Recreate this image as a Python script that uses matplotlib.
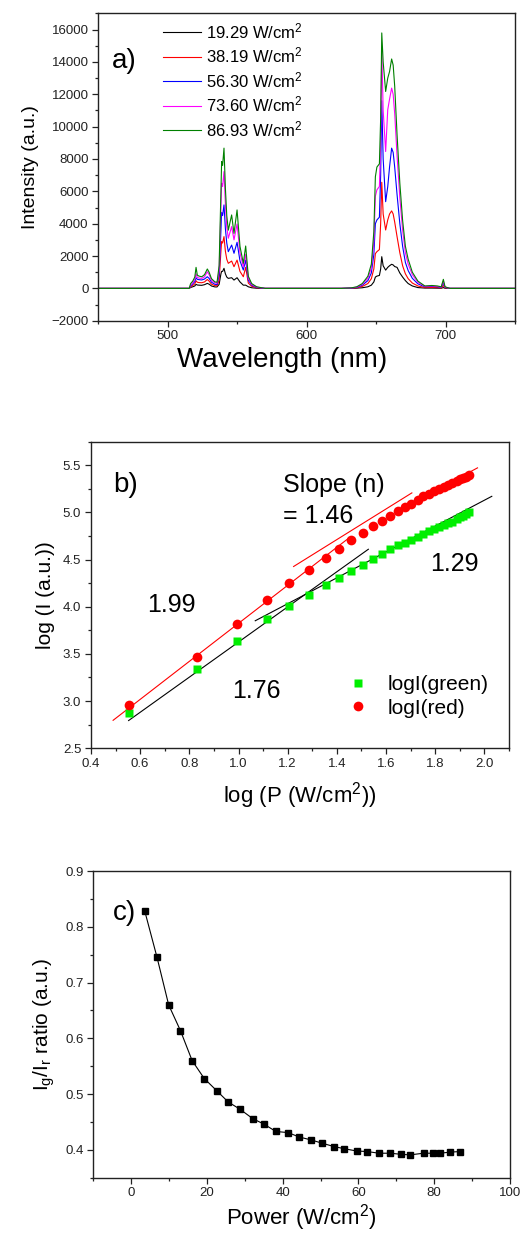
import numpy as np
import matplotlib
matplotlib.use('Agg')
import matplotlib.pyplot as plt
from matplotlib.ticker import MultipleLocator

plt.rcParams['font.family'] = ['Liberation Sans', 'DejaVu Sans']
plt.rcParams['mathtext.fontset'] = 'custom'
plt.rcParams['mathtext.rm'] = 'Liberation Sans'
plt.rcParams['mathtext.it'] = 'Liberation Sans'
plt.rcParams['mathtext.default'] = 'rm'

# ---- panel a: emission spectra ----
wavelength = [450, 515.5, 516.5, 518, 519.5, 520.4, 521.3, 522.5, 524.5, 526.5,
              528.5, 529.8, 531.5, 534, 535.5, 537, 538.3, 538.8, 539.5, 540.5,
              541.5, 542.5, 543.6, 546.0, 547.7, 549.9, 552.0, 554.4, 556.1, 558.0,
              560.4, 564, 570, 625, 632, 636, 640, 644, 646.5, 648.3,
              649.4, 650.5, 652.3, 653.2, 654.0, 655.0, 656.8, 658.3, 659.6, 661.1,
              662.2, 663.3, 665, 667, 669, 671, 673, 676, 680, 685,
              690, 694, 696.8, 698.3, 699.5, 703, 750]

spec_19 = [0, 0, 60, 100, 150, 250, 210, 200, 190, 230,
           310, 260, 150, 90, 90, 250, 900, 1050, 1050, 1240,
           900, 700, 620, 660, 515, 660, 400, 200, 200, 100,
           40, 10, 0, 0, 5, 15, 40, 100, 200, 400,
           700, 760, 800, 1200, 1960, 1400, 1130, 1300, 1400, 1490,
           1450, 1350, 1300, 950, 700, 480, 300, 150, 50, 20,
           20, 15, 10, 50, 10, 0, 0]
spec_38 = [0, 0, 100, 180, 280, 470, 380, 360, 350, 400,
           550, 450, 260, 170, 160, 500, 2300, 2900, 2800, 3200,
           2300, 1800, 1550, 1690, 1340, 1750, 1050, 720, 1300, 330,
           130, 40, 0, 0, 10, 40, 120, 300, 600, 1200,
           2150, 2270, 2400, 4000, 6560, 4600, 3610, 4230, 4600, 4790,
           4600, 4100, 3200, 2200, 1400, 900, 600, 330, 150, 50,
           60, 50, 30, 180, 30, 0, 0]
spec_56 = [0, 0, 150, 280, 420, 660, 560, 540, 520, 580,
           720, 620, 380, 250, 240, 800, 3600, 4700, 4500, 5160,
           3700, 2800, 2270, 2680, 2170, 2850, 1700, 1135, 1750, 500,
           200, 60, 0, 0, 20, 60, 200, 480, 950, 2100,
           4000, 4230, 4400, 7000, 11600, 8000, 5360, 6290, 7500, 8670,
           8400, 7500, 5800, 4000, 2600, 1600, 1100, 620, 280, 100,
           120, 100, 60, 350, 60, 0, 0]
spec_73 = [0, 0, 200, 350, 550, 900, 680, 640, 620, 720,
           1030, 850, 500, 340, 320, 1100, 5000, 6500, 6300, 7220,
           5200, 3800, 3100, 3820, 3000, 3980, 2200, 1340, 2100, 620,
           250, 80, 0, 0, 25, 80, 250, 620, 1250, 2900,
           5700, 6090, 6300, 9000, 14860, 11000, 8460, 11040, 11700, 12380,
           12000, 10800, 8200, 5600, 3600, 2200, 1500, 850, 380, 130,
           150, 120, 80, 450, 80, 0, 0]
spec_87 = [0, 0, 300, 450, 700, 1300, 820, 760, 720, 850,
           1200, 1000, 600, 400, 380, 1400, 6000, 7840, 7600, 8670,
           6200, 4500, 3600, 4540, 3400, 4850, 2600, 1550, 2620, 750,
           300, 100, 0, 0, 30, 100, 300, 750, 1500, 3500,
           6900, 7500, 7700, 10500, 15790, 14000, 12170, 13000, 13400, 14180,
           13800, 12500, 9500, 6500, 4200, 2600, 1800, 1000, 450, 150,
           180, 150, 100, 560, 100, 0, 0]

spec_labels = ['19.29 W/cm$^2$', '38.19 W/cm$^2$', '56.30 W/cm$^2$',
               '73.60 W/cm$^2$', '86.93 W/cm$^2$']
spec_colors = ['black', 'red', 'blue', 'magenta', 'green']

# ---- panels b and c: power series ----
power = [3.6, 6.8, 9.9, 13.0, 16.1, 19.29, 22.6, 25.6, 28.7, 32.1,
         35.1, 38.19, 41.4, 44.4, 47.4, 50.4, 53.5, 56.30, 59.5, 62.3,
         65.4, 68.4, 71.3, 73.60, 77.2, 79.8, 81.6, 84.2, 86.93]
logI_green = [2.876, 3.340, 3.638, 3.865, 4.007, 4.124, 4.227, 4.305, 4.376, 4.447,
              4.504, 4.557, 4.610, 4.649, 4.678, 4.707, 4.744, 4.774, 4.799, 4.824,
              4.845, 4.868, 4.885, 4.902, 4.930, 4.946, 4.958, 4.978, 4.999]
logI_red = [2.961, 3.465, 3.812, 4.074, 4.255, 4.394, 4.521, 4.617, 4.706, 4.784,
            4.851, 4.908, 4.965, 5.018, 5.057, 5.092, 5.135, 5.170, 5.199, 5.225,
            5.250, 5.272, 5.292, 5.310, 5.335, 5.350, 5.362, 5.380, 5.400]
ratio = [0.828, 0.746, 0.660, 0.614, 0.560, 0.528, 0.506, 0.486, 0.473, 0.456,
         0.446, 0.433, 0.431, 0.423, 0.418, 0.412, 0.406, 0.402, 0.398, 0.397,
         0.394, 0.394, 0.392, 0.391, 0.394, 0.394, 0.394, 0.396, 0.397]

# linear fits drawn in panel b: slope, intercept, x start, x end, colour
fit_slope = [2.015, 1.622, 1.40, 1.862, 1.371]
fit_icpt = [1.809, 2.441, 2.711, 1.764, 2.387]
fit_x0 = [0.49, 1.224, 1.72, 0.553, 1.068]
fit_x1 = [1.45, 1.705, 1.972, 1.528, 2.03]
fit_color = ['red', 'red', 'red', 'black', 'black']


def style_axes(ax):
    for s in ax.spines.values():
        s.set_linewidth(1.0)
        s.set_color('#222222')
    ax.tick_params(which='both', direction='out', top=False, right=False,
                   labelsize=9.5, colors='#222222', width=0.9)
    ax.tick_params(which='major', length=4.5, pad=2.5)
    ax.tick_params(which='minor', length=2.5)


fig = plt.figure(figsize=(5.22, 12.37), dpi=100)

# ---------------- a) ----------------
ax1 = fig.add_axes([0.1881, 0.7407, 0.7989, 0.2485])
specs = [spec_19, spec_38, spec_56, spec_73, spec_87]
for s, lab, c in zip(specs, spec_labels, spec_colors):
    ax1.plot(wavelength, s, color=c, lw=0.8, label=lab)
ax1.set_xlim(450, 750)
ax1.set_ylim(-2000, 17000)
ax1.xaxis.set_major_locator(MultipleLocator(100))
ax1.xaxis.set_minor_locator(MultipleLocator(50))
ax1.yaxis.set_major_locator(MultipleLocator(2000))
ax1.yaxis.set_minor_locator(MultipleLocator(1000))
style_axes(ax1)
ax1.set_xlabel('Wavelength (nm)', fontsize=20, labelpad=4)
ax1.xaxis.set_label_coords(0.44, -0.085)
ax1.set_ylabel('Intensity (a.u.)', fontsize=14, labelpad=9)
ax1.legend(loc='upper left', bbox_to_anchor=(0.155, 0.975), frameon=False,
           fontsize=12, handlelength=2.3, handletextpad=0.3, labelspacing=0.28,
           borderpad=0, borderaxespad=0)
ax1.text(0.033, 0.822, 'a)', transform=ax1.transAxes, fontsize=20)

# ---------------- b) ----------------
ax2 = fig.add_axes([0.1743, 0.3951, 0.8008, 0.2479])
logP = np.log10(power)
for k in range(len(fit_slope)):
    xs = np.array([fit_x0[k], fit_x1[k]])
    ax2.plot(xs, fit_slope[k] * xs + fit_icpt[k], color=fit_color[k], lw=0.8)
ax2.plot(logP, logI_green, 's', color='#00ee00', ms=6, mec='none', label='logI(green)')
ax2.plot(logP, logI_red, 'o', color='#ff0000', ms=7, mec='none', label='logI(red)')
ax2.set_xlim(0.4, 2.1)
ax2.set_ylim(2.5, 5.75)
ax2.xaxis.set_major_locator(MultipleLocator(0.2))
ax2.xaxis.set_minor_locator(MultipleLocator(0.1))
ax2.yaxis.set_major_locator(MultipleLocator(0.5))
ax2.yaxis.set_minor_locator(MultipleLocator(0.25))
style_axes(ax2)
ax2.set_xlabel('log (P (W/cm$^2$))', fontsize=16, labelpad=7)
ax2.set_ylabel('log (I (a.u.))', fontsize=15, labelpad=6)
ax2.legend(loc='lower left', bbox_to_anchor=(0.615, 0.10), frameon=False,
           fontsize=15, handlelength=1.0, handletextpad=0.9, labelspacing=0.2,
           borderpad=0, borderaxespad=0)
ax2.text(0.053, 0.837, 'b)', transform=ax2.transAxes, fontsize=20)
ax2.text(0.459, 0.837, 'Slope (n)', transform=ax2.transAxes, fontsize=18)
ax2.text(0.459, 0.734, '= 1.46', transform=ax2.transAxes, fontsize=18)
ax2.text(0.134, 0.444, '1.99', transform=ax2.transAxes, fontsize=18)
ax2.text(0.337, 0.163, '1.76', transform=ax2.transAxes, fontsize=18)
ax2.text(0.811, 0.579, '1.29', transform=ax2.transAxes, fontsize=18)

# ---------------- c) ----------------
ax3 = fig.add_axes([0.1787, 0.0479, 0.7983, 0.2479])
ax3.plot(power, ratio, 's-', color='black', ms=5, lw=0.8)
ax3.set_xlim(-10, 100)
ax3.set_ylim(0.35, 0.9)
ax3.xaxis.set_major_locator(MultipleLocator(20))
ax3.xaxis.set_minor_locator(MultipleLocator(10))
ax3.yaxis.set_major_locator(MultipleLocator(0.1))
ax3.yaxis.set_minor_locator(MultipleLocator(0.05))
style_axes(ax3)
ax3.set_xlabel('Power (W/cm$^2$)', fontsize=16, labelpad=2)
ax3.set_ylabel('I$_g$/I$_r$ ratio (a.u.)', fontsize=15, labelpad=6)
ax3.text(0.047, 0.840, 'c)', transform=ax3.transAxes, fontsize=20)

fig.savefig('out.png', dpi=100)
